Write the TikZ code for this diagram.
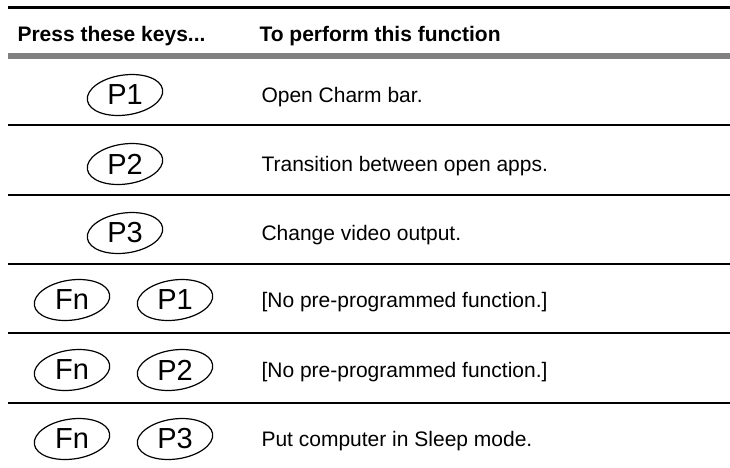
\documentclass[tikz,border=0pt]{standalone}
\usepackage{fontspec}
\usepackage{graphicx}
\setmainfont{Liberation Sans}
\usetikzlibrary{shapes.geometric,positioning}

% key text is turned back so that only the outline leans
\newcommand{\keycap}[1]{\rotatebox{-8}{#1}}

\begin{document}
\begin{tikzpicture}[x=1pt,y=-1pt,
  key/.style={ellipse,draw,line width=1.2pt,rotate=8,
              minimum width=76pt,minimum height=40pt,inner sep=0pt,
              font=\fontsize{29}{29}\selectfont},
  func/.style={anchor=base west,font=\fontsize{21}{24}\selectfont},
  head/.style={anchor=base west,font=\bfseries\fontsize{21}{24}\selectfont},
  rule/.style={line width=1.7pt}]

  \useasboundingbox (0,0) rectangle (730,467);

  % header
  \draw[line width=2.5pt] (8,7.5) -- (730,7.5);
  \node[head] (KEYS) at (14,41) {Press these keys...};
  \node[head] (FUNC) at (256,41) {To perform this function};
  \draw[line width=5.5pt,gray] (8,56) -- (730,56);
  \foreach \y in {124.7,195,264,333,403}
    \draw[rule] (8,\y) -- (730,\y);

  % single keys
  \node[key] (P1) at (125,95) {\keycap{P1}};
  \node[func] (CHARM) at (258,102.5) {Open Charm bar.};
  \node[key] (P2) at (125,164) {\keycap{P2}};
  \node[func] (APPS) at (258,171.5) {Transition between open apps.};
  \node[key] (P3) at (125,233) {\keycap{P3}};
  \node[func] (VIDEO) at (258,240.5) {Change video output.};

  % Fn combinations
  \node[key] (FN1) at (72,300) {\keycap{Fn}};
  \node[key] (FNP1) at (175,300) {\keycap{P1}};
  \node[func] (NONE1) at (258,307.5) {[No pre-programmed function.]};
  \node[key] (FN2) at (72,370) {\keycap{Fn}};
  \node[key] (FNP2) at (175,370) {\keycap{P2}};
  \node[func] (NONE2) at (258,377.5) {[No pre-programmed function.]};
  \node[key] (FN3) at (72,439) {\keycap{Fn}};
  \node[key] (FNP3) at (175,439) {\keycap{P3}};
  \node[func] (SLEEP) at (258,446.5) {Put computer in Sleep mode.};

\end{tikzpicture}
\end{document}
